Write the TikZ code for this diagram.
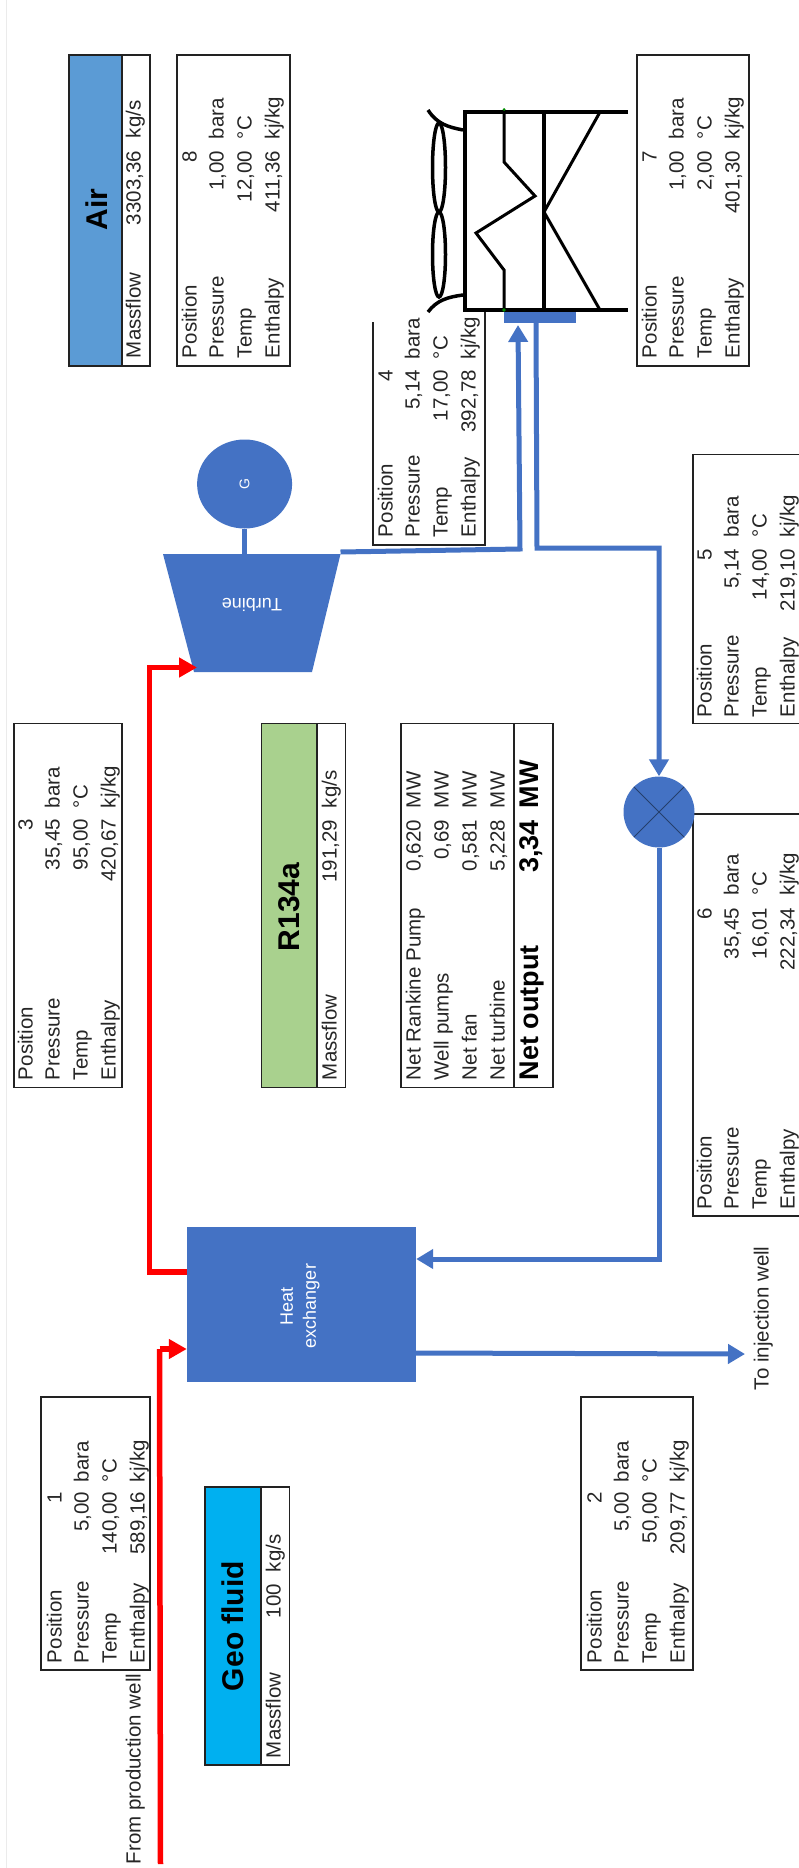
\documentclass[tikz,border=0pt]{standalone}
\usepackage{fontspec}
\setmainfont{Liberation Sans}
\usetikzlibrary{arrows.meta,shapes.geometric}
\definecolor{rblue}{HTML}{4472C4}
\definecolor{rred}{HTML}{FF0000}
\definecolor{airblue}{HTML}{5B9BD5}
\definecolor{rgreen}{HTML}{A9D18E}
\definecolor{geoblue}{HTML}{00B0F0}
\definecolor{tline}{HTML}{222222}
\tikzset{
  tb/.style={draw=tline,line width=1.5pt,fill=white,inner sep=0pt,outer sep=0pt},
  txt/.style={rotate=90,inner sep=0pt,outer sep=0pt,font=\fontsize{20.5}{24}\selectfont,text=black!85,text height=15pt,text depth=4pt},
  lab/.style={txt,anchor=west},
  val/.style={txt,anchor=east},
  titletxt/.style={rotate=90,font=\fontsize{30}{34}\selectfont\bfseries,text=black,inner sep=0pt},
  whitetxt/.style={text=white,inner sep=0pt,align=center,font=\fontsize{18}{23}\selectfont},
  hotline/.style={draw=rred,line width=5.5pt,line join=miter},
  coldline/.style={draw=rblue,line width=5pt,line join=miter},
  hothead/.style={-{Triangle[length=18pt,width=19pt]}},
  coldhead/.style={-{Triangle[length=17pt,width=19pt]}},
  blk/.style={draw=black,line width=4.5pt},
  blkthin/.style={draw=black,line width=3pt,line join=miter},
  fan/.style={draw=black,line width=3.5pt}
}
\newcommand{\tbox}[5]{\node[tb,minimum width={(#4-#2)*1pt},minimum height={(#5-#3)*1pt}] (#1) at ({(#2+#4)/2},{(#3+#5)/2}) {};}
% name, left x, value end y, unit start y, label start y, number, pressure, temp, enthalpy
\newcommand{\rows}[9]{%
  \node[lab] (#1-a) at (#2+14,#5) {Position};
  \node[lab] (#1-b) at (#2+41,#5) {Pressure};
  \node[lab] (#1-c) at (#2+69,#5) {Temp};
  \node[lab] (#1-d) at (#2+97,#5) {Enthalpy};
  \node[val] (#1-e) at (#2+14,#3) {#6};
  \node[val] (#1-f) at (#2+41,#3) {#7};
  \node[val] (#1-g) at (#2+69,#3) {#8};
  \node[val] (#1-h) at (#2+97,#3) {#9};
  \node[lab] (#1-i) at (#2+41,#4) {bara};
  \node[lab] (#1-j) at (#2+69,#4) {°C};
  \node[lab] (#1-k) at (#2+97,#4) {kj/kg};
}
\begin{document}
\begin{tikzpicture}[x=1pt,y=-1pt]
\path[use as bounding box,fill=white] (0,0) rectangle (799,1868);
\clip (0,0) rectangle (799,1868);
\draw[black!8,line width=1pt] (6,0) -- (6,1868);

% ---- Air
\node[tb,fill=airblue,minimum width=53pt,minimum height=311pt] (airhead) at (95.5,210.5) {};
\tbox{airflow}{122}{55}{150}{366}
\node[titletxt] (airtitle) at (97,209.5) {Air};
\node[lab] (airm) at (135,358) {Massflow};
\node[val] (airv) at (135,151) {3303,36};
\node[lab] (airu) at (135,138) {kg/s};

% ---- Tables
\tbox{t8}{177}{55}{290}{366}
\rows{r8}{177}{151}{139}{358}{8}{1,00}{12,00}{411,36}
\tbox{t7}{637}{55}{749}{366}
\rows{r7}{637}{151}{139}{358}{7}{1,00}{2,00}{401,30}
\tbox{t3}{14}{723.5}{122}{1087.5}
\rows{r3}{13}{819}{808}{1080}{3}{35,45}{95,00}{420,67}
\tbox{t5}{693}{454.5}{830}{723.5}
\rows{r5}{692}{549}{537}{717}{5}{5,14}{14,00}{219,10}
\tbox{t6}{693}{814}{830}{1216}
\rows{r6}{692}{908}{895}{1209}{6}{35,45}{16,01}{222,34}
\tbox{t1}{41}{1397}{150}{1670}
\rows{r1}{42}{1492}{1482}{1663}{1}{5,00}{140,00}{589,16}
\tbox{t2}{581}{1397}{693}{1670}
\rows{r2}{582}{1492}{1482}{1663}{2}{5,00}{50,00}{209,77}

% ---- Table 4 (open at the top)
\draw[tline,line width=1.5pt] (373,322) -- (373,545) -- (485,545) -- (485,312);
\rows{r4}{373}{370}{359}{537}{4}{5,14}{17,00}{392,78}

% ---- R134a
\node[tb,fill=rgreen,minimum width=55.5pt,minimum height=364pt] (rhead) at (289.3,905.5) {};
\tbox{rflow}{317}{723.5}{345.5}{1087.5}
\node[titletxt] (rtitle) at (289,907) {R134a};
\node[lab] (rm) at (331,1080) {Massflow};
\node[val] (rv) at (331,820) {191,29};
\node[lab] (ru) at (331,808) {kg/s};

% ---- Net output
\tbox{net}{401}{723.5}{514}{1087.5}
\tbox{netsum}{514}{723.5}{553}{1087.5}
\node[lab] (n1) at (415,1080) {Net Rankine Pump};
\node[lab] (n2) at (443,1080) {Well pumps};
\node[lab] (n3) at (471,1080) {Net fan};
\node[lab] (n4) at (499,1080) {Net turbine};
\node[val] (n1v) at (415,820) {0,620};
\node[val] (n2v) at (443,820) {0,69};
\node[val] (n3v) at (471,820) {0,581};
\node[val] (n4v) at (499,820) {5,228};
\node[lab] (n1u) at (415,808) {MW};
\node[lab] (n2u) at (443,808) {MW};
\node[lab] (n3u) at (471,808) {MW};
\node[lab] (n4u) at (499,808) {MW};
\node[lab,font=\fontsize{27}{30}\selectfont\bfseries,text=black] (nsl) at (533,1080) {Net output};
\node[val,font=\fontsize{27}{30}\selectfont\bfseries,text=black] (nsv) at (533,820) {3,34};
\node[lab,font=\fontsize{27}{30}\selectfont\bfseries,text=black] (nsu) at (533,808) {MW};

% ---- Geo fluid
\node[tb,fill=geoblue,minimum width=56pt,minimum height=278pt] (geohead) at (233,1626) {};
\tbox{geoflow}{261}{1487}{289.5}{1765}
\node[titletxt] (geotitle) at (233,1626) {Geo fluid};
\node[lab] (gm) at (275,1758) {Massflow};
\node[val] (gv) at (275,1584) {100};
\node[lab] (gu) at (275,1572) {kg/s};

% ---- Free labels
\node[lab] (fromwell) at (135,1864) {From production well};
\node[lab] (towell) at (763,1390) {To injection well};

% ---- Equipment
\node[fill=rblue,inner sep=0pt,minimum width=229pt,minimum height=155pt] (hx) at (301.5,1304.5) {};
\node[whitetxt,rotate=90] (hxlab) at (300,1306) {Heat\\exchanger};
\fill[rblue] (163,554) -- (340.5,554) -- (312,672) -- (194,672) -- cycle;
\node[whitetxt,rotate=180] (turbine) at (252,605) {Turbine};
\node[ellipse,fill=rblue,inner sep=0pt,minimum width=95pt,minimum height=89pt] (gen) at (244.6,484) {};
\node[whitetxt,rotate=90,font=\fontsize{14}{16}\selectfont] (genlab) at (244.6,484) {G};
\coordinate (turbtop) at (244.6,555);
\draw[coldline] (gen.south) -- (turbtop);

% ---- Air cooler
\coordinate (acTL) at (465,112);
\coordinate (acBL) at (465,310);
\draw[blk] (628,112) -- (acTL) -- (acBL) -- (628,310);
\draw[blk,line width=4pt] (544,112) -- (544,310);
\draw[blkthin] (504,112) -- (504,162) -- (535,196) -- (476,233) -- (504,270) -- (504,310);
\draw[blkthin] (600,112) -- (544,212) -- (600,310);
\fill[green!55!black] (504,109.5) circle (1.5) (504,310) circle (1.8);
\draw[fan] (439,167.5) ellipse [x radius=6.5,y radius=44.5];
\draw[fan] (439,254.5) ellipse [x radius=6.5,y radius=42.5];
\draw[fan] (463,130) .. controls (448,127) and (437,124) .. (428,110);
\draw[fan] (463,295) .. controls (448,297) and (437,300) .. (428,312);
\node[fill=rblue,inner sep=0pt,minimum width=72pt,minimum height=11pt] (header) at (540,317.5) {};

% ---- Mixer
\node[fill=rblue,circle,inner sep=0pt,minimum size=71pt] (mixer) at (659,812) {};
\draw[black!45!rblue,line width=1pt] (mixer.north west) -- (mixer.south east) (mixer.north east) -- (mixer.south west);

% ---- Connectors
\coordinate (hxRedOut) at (hx.west |- 0,1272);
\coordinate (hxRedIn) at (hx.west |- 0,1349);
\coordinate (wellStart) at (160.5,1864);
\coordinate (wellTurn) at (159.5,1349);
\coordinate (redTurnA) at (149.5,1272);
\coordinate (redTurnB) at (149.5,667.5);
\coordinate (turbIn) at (197,667.5);
\draw[hotline,hothead] (hxRedOut) -- (redTurnA) -- (redTurnB) -- (turbIn);
\draw[hotline] (wellStart) -- (wellTurn);
\draw[hotline,hothead] (wellTurn) -- (hxRedIn);

\coordinate (turbOut) at (340.5,552);
\coordinate (b1) at (520,549);
\coordinate (headerIn) at (518,325);
\draw[coldline,coldhead] (turbOut) -- (b1) -- (headerIn);
\coordinate (headerOut) at (536,323);
\coordinate (c1) at (537,548);
\coordinate (c2) at (659,548);
\draw[coldline,coldhead] (headerOut) -- (c1) -- (c2) -- (mixer.north);
\coordinate (d1) at (659,1259);
\coordinate (hxBlueIn) at (hx.east |- 0,1259);
\draw[coldline,coldhead] (mixer.south) -- (d1) -- (hxBlueIn);
\coordinate (hxBlueOut) at (hx.east |- 0,1353);
\coordinate (toWell) at (745,1354);
\draw[coldline,coldhead] (hxBlueOut) -- (toWell);
\end{tikzpicture}
\end{document}
